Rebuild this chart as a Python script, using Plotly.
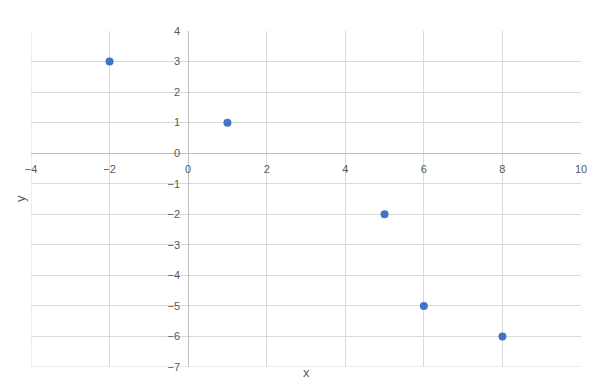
import plotly.graph_objects as go

x_vals = [-2, 1, 5, 6, 8]
y_vals = [3, 1, -2, -5, -6]

x_range = [-4, 10]
y_range = [-7, 4]
x_title = "x"
y_title = "y"

fig = go.Figure()
fig.add_trace(go.Scatter(
    x=x_vals, y=y_vals, mode="markers",
    marker=dict(color="#4472C4", size=8),
    showlegend=False, hoverinfo="x+y",
))

font = dict(family="Liberation Sans, Arial, sans-serif", size=11, color="#595959")
grid = "#d9d9d9"

xpos = (0 - y_range[0]) / (y_range[1] - y_range[0])
ypos = (0 - x_range[0]) / (x_range[1] - x_range[0])

fig.update_layout(
    width=600, height=382,
    margin=dict(l=31, r=19, t=31, b=15, autoexpand=False),
    paper_bgcolor="white", plot_bgcolor="white",
    font=font,
    xaxis=dict(
        range=x_range, dtick=2, tick0=0, anchor="free", position=xpos,
        showgrid=True, gridcolor=grid, gridwidth=1,
        zeroline=True, zerolinecolor="#bfbfbf", zerolinewidth=1,
        showline=False, ticks="", ticklabelstandoff=8, automargin=False,
        tickfont=font, fixedrange=True,
    ),
    yaxis=dict(
        range=y_range, dtick=1, tick0=0, anchor="free", position=ypos,
        showgrid=True, gridcolor=grid, gridwidth=1,
        zeroline=True, zerolinecolor="#bfbfbf", zerolinewidth=1,
        showline=False, ticks="", ticklabelstandoff=8, automargin=False,
        tickfont=font, fixedrange=True,
    ),
    shapes=[
        dict(type="line", xref="x", yref="y", x0=x_range[0], x1=x_range[0],
             y0=y_range[0], y1=y_range[1], line=dict(color=grid, width=1), layer="below"),
        dict(type="line", xref="x", yref="y", x0=x_range[0], x1=x_range[1],
             y0=y_range[0], y1=y_range[0], line=dict(color=grid, width=1), layer="below"),
    ],
    annotations=[
        dict(text=x_title, xref="paper", yref="paper", x=0.5, y=0,
             xanchor="center", yanchor="middle", yshift=-5, showarrow=False,
             font=dict(family=font["family"], size=13, color="#595959")),
        dict(text=y_title, xref="paper", yref="paper", x=0, y=0.5,
             xanchor="center", yanchor="middle", xshift=-11, textangle=-90, showarrow=False,
             font=dict(family=font["family"], size=13, color="#595959")),
    ],
)

fig.write_html("out.html")
